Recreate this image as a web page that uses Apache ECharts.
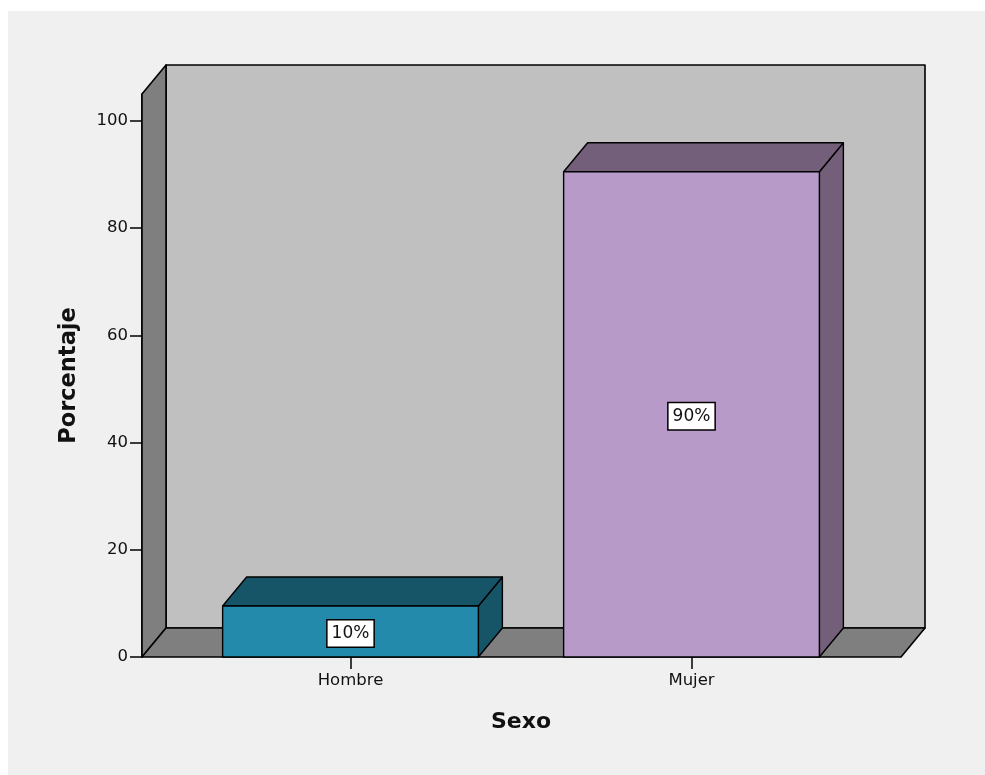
<!DOCTYPE html>
<html><head><meta charset="utf-8">
<script src="https://cdn.jsdelivr.net/npm/echarts@6/dist/echarts.min.js"></script>
<style>html,body{margin:0;padding:0;background:#fff}#c{width:985px;height:775px}</style>
</head><body><div id="c"></div>
<script>
// ---- data ----
const categories = ['Hombre', 'Mujer'];
const values = [9.5, 90.5];
const barLabels = ['10%', '90%'];
const yTickValues = [0, 20, 40, 60, 80, 100];
const frontColors = ['#238aab', '#b89ac8'];
const darkColors = ['#165468', '#735f7a'];

// ---- 3D styling constants (pixels) ----
const DX = 24, DY = -29, EXT_L = 38, EXT_R = 39;
const FONT = '"DejaVu Sans", sans-serif';

const chart = echarts.init(document.getElementById('c'), null, {renderer: 'canvas'});

function renderBackdrop(params, api) {
  const cs = params.coordSys;
  const y0 = api.coord([0, 0])[1];
  const yTop = cs.y;
  const xl = cs.x - EXT_L, xr = cs.x + cs.width + EXT_R;
  const line = {stroke: '#000', lineWidth: 1.6, lineJoin: 'round'};
  return {
    type: 'group',
    children: [
      {type: 'polygon', shape: {points: [[xl + DX, yTop + DY], [xr + DX, yTop + DY], [xr + DX, y0 + DY], [xl + DX, y0 + DY]]},
        style: Object.assign({fill: '#c0c0c0'}, line)},
      {type: 'polygon', shape: {points: [[xl, y0], [xl, yTop], [xl + DX, yTop + DY], [xl + DX, y0 + DY]]},
        style: Object.assign({fill: '#7f7f7f'}, line)},
      {type: 'polygon', shape: {points: [[xl, y0], [xr, y0], [xr + DX, y0 + DY], [xl + DX, y0 + DY]]},
        style: Object.assign({fill: '#7f7f7f'}, line)}
    ]
  };
}

function renderBar(params, api) {
  const i = api.value(0);
  const base = api.coord([i, 0]);
  const top = api.coord([i, api.value(1)]);
  const w = api.size([1, 0])[0] * 0.75;
  const xL = base[0] - w / 2, xR = base[0] + w / 2;
  const yB = base[1], yT = top[1];
  const line = {stroke: '#000', lineWidth: 1.4, lineJoin: 'round'};
  return {
    type: 'group',
    children: [
      {type: 'polygon', shape: {points: [[xR, yB], [xR, yT], [xR + DX, yT + DY], [xR + DX, yB + DY]]},
        style: Object.assign({fill: darkColors[i]}, line)},
      {type: 'polygon', shape: {points: [[xL, yT], [xR, yT], [xR + DX, yT + DY], [xL + DX, yT + DY]]},
        style: Object.assign({fill: darkColors[i]}, line)},
      {type: 'rect', shape: {x: xL, y: yT, width: w, height: yB - yT},
        style: Object.assign({fill: frontColors[i]}, line)},
      {type: 'text', x: base[0], y: (yB + yT) / 2 + 2,
        style: {text: barLabels[i], fill: '#111', font: '17px ' + FONT, align: 'center', verticalAlign: 'middle',
          backgroundColor: '#fff', borderColor: '#000', borderWidth: 1.5, padding: [5, 4, 4, 4]}}
    ]
  };
}

const option = {
  animation: false,
  backgroundColor: 'transparent',
  graphic: [{type: 'rect', left: 8, top: 11, z: -100, shape: {width: 977, height: 764}, style: {fill: '#f0f0f0'}}],
  grid: {left: 180, right: 123, top: 94, bottom: 118},
  xAxis: {
    type: 'category', data: categories,
    name: 'Sexo', nameLocation: 'middle', nameGap: 54,
    nameTextStyle: {fontFamily: FONT, fontWeight: 'bold', fontSize: 22, color: '#111'},
    axisLine: {show: false},
    axisTick: {show: true, alignWithLabel: true, length: 12, lineStyle: {color: '#000', width: 1.5}},
    axisLabel: {fontFamily: FONT, fontSize: 16.5, color: '#111', margin: 15},
    splitLine: {show: false}
  },
  yAxis: {
    type: 'value', min: 0, max: 105, interval: 20, offset: 38,
    name: 'Porcentaje', nameLocation: 'middle', nameGap: 61,
    nameTextStyle: {fontFamily: FONT, fontWeight: 'bold', fontSize: 22.5, color: '#111'},
    axisLine: {show: true, lineStyle: {color: '#000', width: 1.6}},
    axisTick: {show: true, length: 12, customValues: yTickValues, lineStyle: {color: '#000', width: 1.5}},
    axisLabel: {fontFamily: FONT, fontSize: 16.5, color: '#111', margin: 14, customValues: yTickValues},
    splitLine: {show: false}
  },
  series: [
    {type: 'custom', z: 1, renderItem: renderBackdrop, data: [[0, 0]], silent: true},
    {type: 'custom', z: 2, renderItem: renderBar, data: values.map((v, i) => [i, v]), silent: true}
  ]
};
chart.setOption(option);
</script>
</body></html>
